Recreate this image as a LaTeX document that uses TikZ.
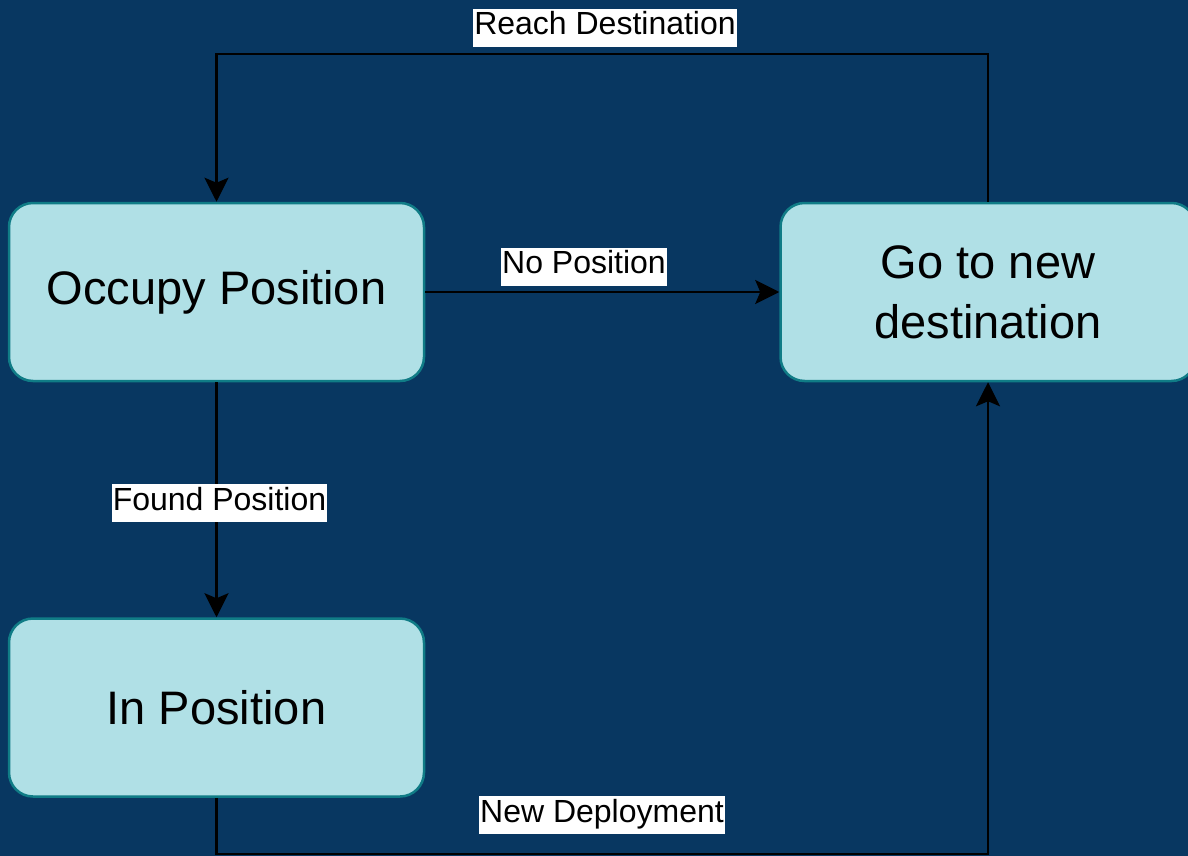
\documentclass[tikz,border=0pt]{standalone}
\usepackage{fontspec}
\setmainfont{Liberation Sans}
\usetikzlibrary{arrows.meta}
\definecolor{bg}{RGB}{8,55,97}
\definecolor{boxfill}{RGB}{176,224,230}
\definecolor{boxdraw}{RGB}{16,124,134}
\tikzset{
  state/.style={draw=boxdraw, line width=2.5pt, fill=boxfill, rounded corners=24pt,
    minimum width=415pt, minimum height=178pt, inner sep=0pt, align=center,
    font=\fontsize{47}{60}\selectfont, text=black},
  conn/.style={draw=black, line width=2.8pt, -{Stealth[length=24pt,width=24pt,inset=5pt]}},
  lbl/.style={fill=white, text=black, inner xsep=1pt, inner ysep=0pt,
    text height=26pt, text depth=12pt, font=\fontsize{32}{38}\selectfont}
}
\begin{document}
\begin{tikzpicture}[x=1pt,y=-1pt]
\fill[bg] (0,0) rectangle (1188,856);
\useasboundingbox (0,0) rectangle (1188,856);
\node[state] (occ) at (216.5,292) {\raisebox{-3pt}{Occupy Position}};
\node[state] (go) at (988,292) {Go to new\\destination};
\node[state] (inp) at (216.5,707.5) {\raisebox{-3pt}{In Position}};
\coordinate (r1) at (988,54);
\coordinate (r2) at (216.5,54);
\coordinate (d1) at (216.5,854);
\coordinate (d2) at (988,854);
\draw[conn] (go.north) -- (r1) -- (r2) -- (occ.north);
\draw[conn] (occ.east) -- (go.west);
\draw[conn] (occ.south) -- (inp.north);
\draw[conn] (inp.south) -- (d1) -- (d2) -- (go.south);
\node[lbl] (lreach) at (605,28) {Reach Destination};
\node[lbl] (lnopos) at (584,266.5) {No Position};
\node[lbl] (lfound) at (219.5,503) {Found Position};
\node[lbl] (ldeploy) at (602,815) {New Deployment};
\end{tikzpicture}
\end{document}
